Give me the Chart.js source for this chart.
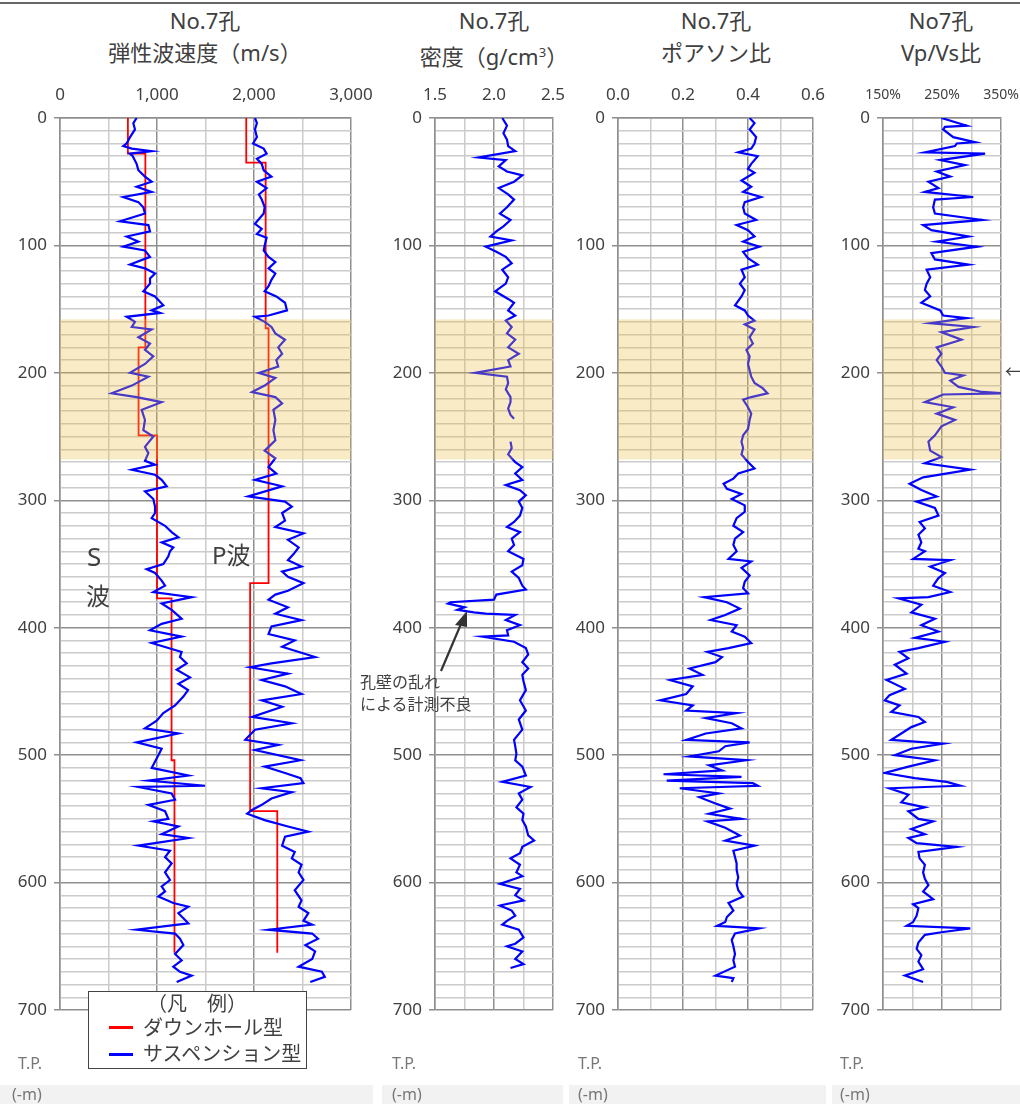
<!DOCTYPE html>
<html>
<head>
<meta charset="utf-8">
<script src="https://cdn.jsdelivr.net/npm/chart.js@4/dist/chart.umd.min.js"></script>
<style>
  body { margin: 0; width: 1020px; height: 1104px; position: relative; background: #fff; overflow: hidden;
         font-family: 'Noto Sans', 'Noto Sans CJK JP', sans-serif; color: #404040; }
  canvas { position: absolute; top: 70px; }
  .ttl { position: absolute; font-size: 22px; line-height: 24px; white-space: nowrap; transform: translateX(-50%); }
  .txt { position: absolute; white-space: nowrap; line-height: 1.2; }
  .tp { position: absolute; font-size: 16px; color: #777; line-height: 20px; }
  #topline { position: absolute; left: 0; top: 2px; width: 1020px; height: 2px; background: #666; }
  .strip { position: absolute; top: 1085px; height: 19px; background: #f2f2f2; }
  #legend { position: absolute; left: 88px; top: 991px; width: 217px; height: 76px; border: 1px solid #444; background: #fff; }
  #legend .row { position: absolute; left: 0; font-size: 20px; line-height: 22px; white-space: nowrap; }
  #legend .sw { position: absolute; left: 20px; width: 24px; height: 3px; }
</style>
</head>
<body>
<div id="topline"></div>

<div class="ttl" style="left:205px;top:8px">No.7孔</div>
<div class="ttl" style="left:205px;top:40px">弾性波速度（m/s）</div>
<div class="ttl" style="left:494px;top:8px">No.7孔</div>
<div class="ttl" style="left:494px;top:40px">密度（g/cm<sup style="font-size:13px">3</sup>）</div>
<div class="ttl" style="left:716px;top:8px">No.7孔</div>
<div class="ttl" style="left:716px;top:40px">ポアソン比</div>
<div class="ttl" style="left:941px;top:8px">No7孔</div>
<div class="ttl" style="left:941px;top:40px">Vp/Vs比</div>

<canvas id="c1" width="380" height="958" style="left:0px"></canvas>
<canvas id="c2" width="198" height="958" style="left:375px"></canvas>
<canvas id="c3" width="277" height="958" style="left:558px"></canvas>
<canvas id="c4" width="200" height="958" style="left:823px"></canvas>

<div class="txt" style="left:87px;top:541px;font-size:26px">S</div>
<div class="txt" style="left:86px;top:582px;font-size:24px">波</div>
<div class="txt" style="left:212px;top:541px;font-size:24px">P波</div>

<div class="txt" style="left:360px;top:673px;font-size:16px">孔壁の乱れ</div>
<div class="txt" style="left:360px;top:695px;font-size:16px">による計測不良</div>
<svg style="position:absolute;left:0;top:0" width="1020" height="1104">
  <line x1="441" y1="671" x2="461" y2="624" stroke="#333" stroke-width="2.2"/>
  <polygon points="467,611 455,625 467,627" fill="#333"/>
</svg>
<div class="txt" style="left:1005px;top:362px;font-size:17px">←</div>

<div id="legend">
  <div class="row" style="top:1px;left:58px">（凡　例）</div>
  <div class="sw" style="top:34px;background:#ff0000"></div>
  <div class="row" style="top:25px;left:54px">ダウンホール型</div>
  <div class="sw" style="top:61px;background:#0000ff"></div>
  <div class="row" style="top:51px;left:54px">サスペンション型</div>
</div>

<div class="strip" style="left:0;width:373px"></div>
<div class="strip" style="left:382px;width:181px"></div>
<div class="strip" style="left:569px;width:257px"></div>
<div class="strip" style="left:832px;width:188px"></div>
<div class="tp" style="left:18px;top:1053px">T.P.</div>
<div class="tp" style="left:12px;top:1084px">(-m)</div>
<div class="tp" style="left:392px;top:1053px">T.P.</div>
<div class="tp" style="left:392px;top:1084px">(-m)</div>
<div class="tp" style="left:578px;top:1053px">T.P.</div>
<div class="tp" style="left:578px;top:1084px">(-m)</div>
<div class="tp" style="left:840px;top:1053px">T.P.</div>
<div class="tp" style="left:840px;top:1084px">(-m)</div>

<script>
// depth axis (m) and highlighted interval
const depthLabels = [0, 100, 200, 300, 400, 500, 600, 700];
const bandTop = 158;
const bandBottom = 268;

// tick labels of each panel
const velLabels = [0, 1000, 2000, 3000];
const rhoLabels = [1.5, 2.0, 2.5];
const nuLabels = [0.0, 0.2, 0.4, 0.6];
const ratioLabels = [150, 250, 350];

// downhole (red) step lines
const dhSDepth = [0, 28, 28, 180, 180, 249, 249, 377, 377, 504, 504, 655];
const dhSVel   = [700, 700, 880, 880, 810, 810, 1000, 1000, 1150, 1150, 1180, 1180];
const dhPDepth = [0, 35, 35, 165, 165, 365, 365, 544, 544, 655];
const dhPVel   = [1920, 1920, 2120, 2120, 2150, 2150, 1960, 1960, 2240, 2240];

// suspension S wave
const sDepth = [0,4,9,15,20,22,24,26,28,30,36,41,46,50,54,58,62,66,70,75,81,84,89,93,97,101,104,109,115,118,
  122,126,130,136,140,147,151,153,156,160,164,166,172,177,182,187,193,200,203,210,216,219,223,227,229,237,245,250,258,263,
  269,272,276,280,284,289,293,299,305,310,314,320,325,329,333,337,340,344,350,354,357,363,367,372,376,381,386,393,397,402,
  407,412,419,423,428,433,439,444,449,454,461,467,473,479,483,490,495,500,505,510,516,520,524,525,530,535,539,544,550,552,
  556,562,565,571,575,580,585,592,598,603,607,611,616,619,624,628,632,637,640,644,649,656,661,666,670,673,678];
const sVel = [790,756,773,722,687,653,740,945,720,750,790,808,876,945,790,945,653,808,859,876,619,911,928,687,808,653,876,928,722,876,
  980,928,928,859,980,1065,945,1031,687,773,740,945,808,928,876,962,876,722,911,740,533,790,1048,911,842,876,859,962,876,911,
  876,980,740,980,1048,1100,876,962,980,980,945,1083,1151,1220,1048,1168,1134,1117,1065,893,980,1048,1083,962,1358,1048,1151,1254,1048,928,
  1254,945,1254,1237,1306,1203,1340,1220,1320,1272,1186,1065,997,876,1220,790,1048,1014,980,945,1323,911,1495,808,1151,1186,911,1083,1117,962,
  1220,1048,1323,808,1134,1083,1151,1083,1134,1048,1083,1014,1168,1323,1220,1272,1323,790,1186,1237,1272,1186,1254,1168,1237,1358,1203];

// suspension P wave
const pDepth = [0,4,9,15,20,24,28,32,36,41,46,50,55,60,64,70,75,83,87,91,94,100,104,109,113,118,122,127,132,136,
  140,145,151,155,156,160,164,169,174,180,185,190,195,200,204,210,215,219,224,229,237,245,253,261,267,274,279,284,289,297,
  301,305,310,316,321,326,331,337,342,347,352,356,360,365,371,374,378,384,389,394,399,405,410,415,423,428,431,436,441,446,
  452,457,462,470,475,480,488,492,496,504,509,514,518,522,526,529,534,539,543,546,551,556,560,564,571,576,581,586,592,598,
  606,614,619,624,630,633,637,640,644,649,654,660,666,670,674,678];
const pVel = [2010,2030,2010,2030,1990,2100,2130,2030,2080,2100,2180,2030,2130,2050,2080,2110,2100,2010,2080,2030,2130,2110,2100,2150,2220,2150,2220,2180,2150,2110,
  2230,2320,2340,2150,2010,2110,2180,2220,2320,2250,2290,2230,2250,2050,2220,2110,1980,2220,2290,2200,2220,2200,2220,2110,2220,2150,2230,2010,2290,1940,
  2320,2390,2290,2320,2220,2510,2350,2460,2410,2350,2490,2290,2350,2510,2350,2220,2150,2350,2220,2490,2180,2150,2420,2290,2630,2180,1960,2350,2080,2320,
  2490,2080,2290,1980,2390,2010,1910,2250,2010,2480,2110,2320,2480,2510,2080,2390,2180,2080,1980,1930,2110,2350,2560,2320,2290,2420,2390,2490,2460,2510,
  2420,2490,2460,2560,2510,2600,2150,2600,2660,2530,2630,2600,2460,2700,2730,2580];

// density (null = no measurement)
const rhoDepth = [0,6,12,17,22,26,31,33,38,42,45,50,55,60,64,70,75,80,85,89,93,96,101,105,109,114,119,125,130,136,
  142,145,151,155,159,164,169,174,180,185,190,195,200,203,208,213,219,223,228,233,236,245,254,259,264,270,274,279,284,288,
  292,296,301,306,312,317,321,325,330,335,340,346,351,356,361,367,370,374,378,380,381,384,386,388,389,390,394,398,402,406,
  407,411,416,421,427,432,437,442,449,457,465,472,480,488,493,499,504,509,516,521,525,530,535,541,546,551,556,563,567,572,
  577,581,586,592,595,601,605,610,614,618,622,626,630,633,637,643,648,650,654,660,664,667];
const rho = [2.07,2.11,2.08,2.11,2.12,2.18,1.87,2.10,2.04,2.11,2.24,2.17,2.04,2.12,2.17,2.11,2.05,2.14,2.08,2.02,1.97,2.15,1.93,2.02,2.10,2.15,2.07,2.12,2.10,2.01,
  2.12,2.17,2.12,2.18,2.10,2.15,2.11,2.18,2.12,2.21,2.12,2.14,1.84,2.11,2.12,2.10,2.14,2.14,2.12,2.14,2.17,null,2.14,2.15,2.12,2.18,2.24,2.18,2.24,2.10,
  2.22,2.27,2.21,2.24,2.22,2.17,2.11,2.22,2.15,2.17,2.12,2.25,2.24,2.15,2.21,2.24,2.27,2.02,2.00,1.63,1.61,1.75,1.69,1.83,1.93,2.18,2.10,2.22,2.11,2.12,
  1.90,2.17,2.27,2.29,2.24,2.29,2.24,2.25,2.27,2.22,2.27,2.21,2.24,2.17,2.18,2.19,2.18,2.24,2.27,2.07,2.31,2.21,2.24,2.19,2.25,2.24,2.27,2.29,2.34,2.24,
  2.22,2.14,2.22,2.19,2.24,2.05,2.22,2.18,2.25,2.05,2.15,2.18,2.11,2.07,2.21,2.25,2.18,2.11,2.24,2.18,2.25,2.14];

// Poisson's ratio
const nuDepth = [0,4,9,15,20,24,27,30,36,40,43,49,54,58,62,66,70,75,80,84,88,93,97,101,105,110,115,119,125,130,
  135,140,147,151,155,159,162,166,172,177,182,187,193,198,203,208,212,216,219,221,227,232,237,244,249,254,259,264,270,275,
  279,283,287,291,295,299,304,309,314,320,325,330,335,340,346,348,353,359,364,369,373,376,380,385,390,394,398,403,407,412,
  416,419,423,427,432,437,441,446,452,457,461,465,467,471,475,479,483,488,490,493,497,501,504,508,512,515,517,520,522,524,
  526,530,533,538,542,546,550,552,557,563,567,571,575,580,585,590,596,601,606,611,616,622,627,631,634,636,640,645,650,656,
  661,666,673,675,678];
const nu = [.405,.42,.405,.425,.42,.41,.37,.43,.41,.40,.42,.38,.41,.385,.44,.39,.385,.39,.425,.365,.40,.42,.385,.435,.385,.40,.43,.38,.39,.375,
  .39,.38,.36,.39,.40,.42,.39,.42,.405,.415,.395,.405,.40,.405,.41,.42,.445,.46,.41,.385,.40,.41,.405,.40,.385,.38,.385,.38,.40,.42,
  .37,.355,.325,.335,.38,.35,.39,.39,.365,.355,.385,.36,.355,.365,.34,.41,.38,.405,.39,.385,.40,.265,.335,.375,.33,.285,.365,.35,.39,.41,
  .34,.275,.32,.30,.22,.26,.16,.23,.21,.13,.23,.21,.365,.27,.35,.38,.27,.21,.405,.33,.31,.22,.395,.28,.32,.14,.38,.15,.415,.43,
  .19,.31,.25,.30,.345,.28,.38,.275,.33,.375,.33,.42,.355,.36,.365,.365,.37,.365,.37,.385,.34,.355,.335,.33,.305,.435,.36,.35,.355,.36,
  .355,.36,.30,.355,.35];

// Vp/Vs ratio (%)
const ratioDepth = [0,6,7,9,15,19,20,22,27,28,33,37,42,46,50,55,58,62,64,70,75,80,84,88,93,97,101,106,111,115,
  119,125,130,135,140,145,151,155,157,161,164,168,174,180,185,190,195,200,202,206,211,215,216,217,223,227,232,237,242,249,
  254,261,266,271,276,282,287,292,297,301,306,312,317,322,327,333,338,340,346,347,352,357,361,367,372,376,377,382,388,393,
  398,403,408,411,416,419,424,429,436,441,448,453,457,461,466,470,474,478,483,488,491,495,500,504,509,514,518,521,524,526,
  531,537,541,544,550,552,558,562,565,569,572,576,581,586,592,597,602,607,613,617,620,626,631,634,636,639,641,647,652,657,
  662,668,673,678];
const ratio = [249,292,255,252,269,306,275,272,221,323,247,289,241,264,227,244,221,303,238,235,238,318,218,232,295,241,309,232,238,295,
  224,230,224,221,230,215,247,252,292,230,303,249,283,241,249,241,249,255,286,264,278,318,354,252,221,269,241,272,249,238,
  227,230,249,221,298,218,195,215,241,207,238,244,212,221,210,215,210,221,201,264,230,255,244,235,264,227,176,215,198,238,
  215,244,204,255,210,178,193,170,190,156,187,161,153,178,164,210,221,198,181,164,252,198,170,238,193,153,204,258,281,161,
  193,181,221,193,210,235,198,221,193,207,275,210,212,221,218,221,227,218,235,201,210,207,201,190,298,249,221,210,207,215,
  210,218,187,218];

const FONT = "'Noto Sans', 'Noto Sans CJK JP', sans-serif";
Chart.defaults.font.family = FONT;
Chart.defaults.color = '#404040';

const GRID_MAJOR = '#8f8f8f';
const GRID_MINOR = '#cbcbcb';
const X_AXIS_H = 48;     // plot top = canvas top + 48 = 118
const X_LABEL_LH = 46;   // label centre 23px above plot top

function pts(depths, vals) {
  return depths.map((d, i) => ({ x: vals[i], y: d }));
}

function isLabel(list, v) {
  return list.some(l => Math.abs(l - v) < 1e-6);
}

// shaded depth interval, drawn as translucent overlay like the original
const bandPlugin = {
  id: 'band',
  afterDatasetsDraw(chart) {
    const { ctx, chartArea: a, scales: { y } } = chart;
    const t = y.getPixelForValue(bandTop), b = y.getPixelForValue(bandBottom);
    ctx.save();
    ctx.fillStyle = 'rgba(240,188,70,0.3)';
    ctx.fillRect(a.left, t, a.right - a.left, b - t);
    ctx.restore();
  }
};

function line(data, color, width) {
  return { data, showLine: true, borderColor: color, borderWidth: width, pointRadius: 0, fill: false, tension: 0, spanGaps: false };
}

function makeChart(id, padRight, xOpt, datasets) {
  const fs = xOpt.size || 17;
  return new Chart(document.getElementById(id), {
    type: 'scatter',
    data: { datasets },
    plugins: [bandPlugin],
    options: {
      responsive: false,
      animation: false,
      layout: { padding: { left: 0, top: 0, right: padRight, bottom: 18 } },
      plugins: { legend: { display: false }, tooltip: { enabled: false } },
      scales: {
        x: {
          type: 'linear', position: 'top', min: xOpt.min, max: xOpt.max,
          afterFit: (s) => { s.height = X_AXIS_H; },
          border: { color: GRID_MAJOR, width: 1.5 },
          grid: {
            drawTicks: false, lineWidth: 1.5,
            color: (c) => isLabel(xOpt.labels, c.tick.value) ? GRID_MAJOR : GRID_MINOR
          },
          ticks: {
            stepSize: xOpt.step, autoSkip: false, maxRotation: 0, padding: 0,
            font: { size: fs, lineHeight: X_LABEL_LH / fs }, color: '#404040',
            callback: (v) => isLabel(xOpt.labels, v) ? xOpt.fmt(v) : ''
          }
        },
        y: {
          type: 'linear', reverse: true, min: 0, max: 700,
          afterFit: (s) => { s.width = 60; },
          border: { color: GRID_MAJOR, width: 1.5 },
          grid: {
            lineWidth: 1.5, tickLength: 6, tickWidth: 1.5,
            color: (c) => isLabel(depthLabels, c.tick.value) ? GRID_MAJOR : GRID_MINOR,
            tickColor: (c) => isLabel(depthLabels, c.tick.value) ? GRID_MAJOR : 'rgba(0,0,0,0)'
          },
          ticks: {
            stepSize: 10, autoSkip: false, padding: 7,
            font: { size: 17 }, color: '#404040',
            callback: (v) => isLabel(depthLabels, v) ? String(v) : ''
          }
        }
      }
    }
  });
}

makeChart('c1', 29,
  { min: 0, max: 3000, step: 500, labels: velLabels, fmt: (v) => v.toLocaleString('en-US') },
  [
    line(pts(sDepth, sVel), '#0000ff', 2.2),
    line(pts(pDepth, pVel), '#0000ff', 2.2),
    line(pts(dhSDepth, dhSVel), '#ff0000', 1.8),
    line(pts(dhPDepth, dhPVel), '#ff0000', 1.8)
  ]);

makeChart('c2', 20,
  { min: 1.5, max: 2.5, step: 0.25, labels: rhoLabels, fmt: (v) => v.toFixed(1) },
  [line(pts(rhoDepth, rho), '#0000ff', 2.2)]);

makeChart('c3', 22,
  { min: 0, max: 0.6, step: 0.1, labels: nuLabels, fmt: (v) => v.toFixed(1) },
  [line(pts(nuDepth, nu), '#0000ff', 2.2)]);

makeChart('c4', 22,
  { min: 150, max: 350, step: 50, labels: ratioLabels, fmt: (v) => v + '%', size: 14 },
  [line(pts(ratioDepth, ratio), '#0000ff', 2.2)]);
</script>
</body>
</html>
